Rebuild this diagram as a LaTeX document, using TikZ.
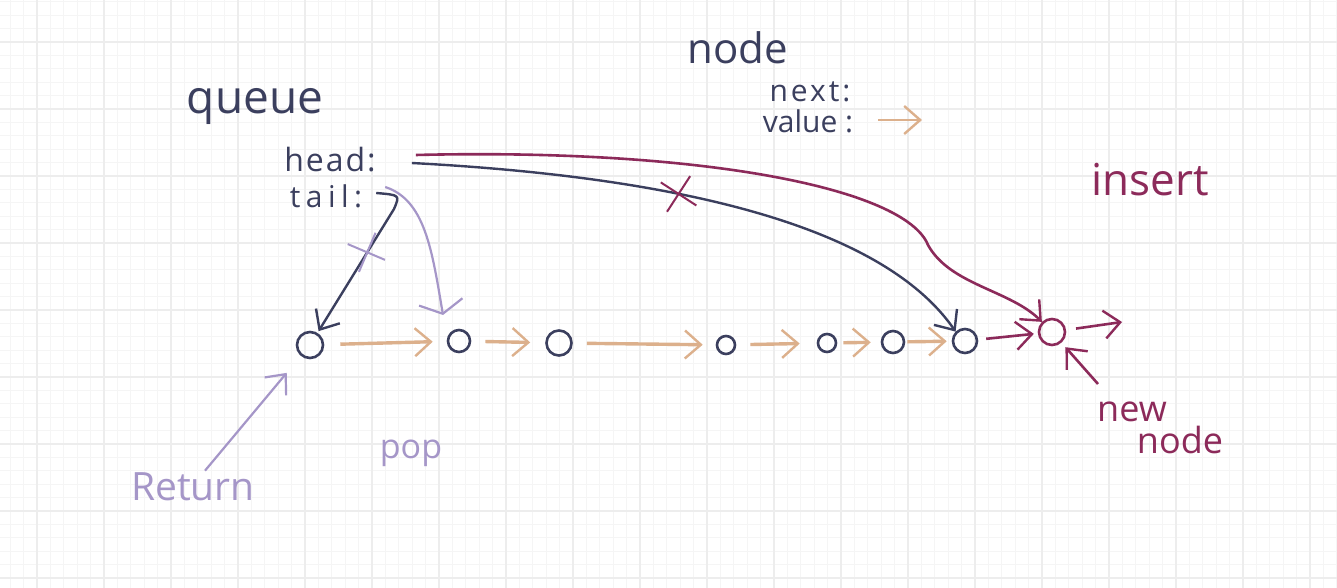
\documentclass[tikz,border=0pt]{standalone}
\usepackage{fontspec}
\setmainfont{Open Sans}
\usetikzlibrary{arrows.meta,shapes.misc}
\definecolor{navy}{HTML}{3B3F5E}
\definecolor{peach}{HTML}{DCB08C}
\definecolor{plum}{HTML}{8C2A5A}
\definecolor{lav}{HTML}{A596C8}
\definecolor{gminor}{HTML}{F5F5F5}
\definecolor{gmajor}{HTML}{EDEDED}
\tikzset{
  txt/.style={inner sep=0pt, anchor=center},
  circ/.style={circle, draw=navy, line width=2.6pt, inner sep=0pt},
  tip/.style={-{Straight Barb[length=16pt,width=28pt,line width=2.4pt]}},
  oarr/.style={tip, draw=peach, line width=3.4pt},
  narr/.style={tip, draw=navy, line width=2.4pt},
  parr/.style={tip, draw=plum, line width=2.6pt},
  larr/.style={-{Straight Barb[length=12pt,width=44pt,line width=2.2pt]}, draw=lav, line width=2.2pt},
  xmark/.style={cross out, draw, line width=2pt, minimum size=28pt, inner sep=0pt},
}
\begin{document}
\begin{tikzpicture}[x=1pt,y=-1pt]
\useasboundingbox (0,0) rectangle (1337,588);
\fill[white] (0,0) rectangle (1337,588);
% grid
\foreach \i in {0,...,100} {\draw[gminor, line width=1pt] (10.2+13.4*\i,0) -- (10.2+13.4*\i,588);}
\foreach \i in {0,...,44} {\draw[gminor, line width=1pt] (0,1.8+13.4*\i) -- (1337,1.8+13.4*\i);}
\foreach \i in {0,...,20} {\draw[gmajor, line width=1.2pt] (37+67*\i,0) -- (37+67*\i,588);}
\foreach \i in {0,...,9} {\draw[gmajor, line width=1.2pt] (0,42+67*\i) -- (1337,42+67*\i);}

% texts
\node[txt, navy, font=\fontsize{46}{46}\selectfont] (queue) at (255,106) {queue};
\node[txt, navy, font=\fontsize{32}{32}\selectfont\addfontfeatures{LetterSpace=6}] (head) at (330,160) {head:};
\node[txt, navy, font=\fontsize{30}{30}\selectfont\addfontfeatures{LetterSpace=18}] (tail) at (326,196) {tail:};
\node[txt, navy, font=\fontsize{42}{42}\selectfont] (nodet) at (738,48) {node};
\node[txt, navy, font=\fontsize{30}{30}\selectfont\addfontfeatures{LetterSpace=10}] (next) at (810,92) {next:};
\node[txt, navy, font=\fontsize{30}{30}\selectfont] (value) at (808,121) {value :};
\coordinate (va1) at (878,120);
\coordinate (va2) at (922,120);
\draw[oarr, line width=2.8pt] (va1) -- (va2);
\node[txt, plum, font=\fontsize{44}{44}\selectfont] (insert) at (1150,180) {insert};
\node[txt, plum, font=\fontsize{36}{36}\selectfont] (new) at (1132,412) {new};
\node[txt, plum, font=\fontsize{36}{36}\selectfont] (nnode) at (1180,440) {node};
\node[txt, lav, font=\fontsize{39}{39}\selectfont] (ret) at (193,487) {Return};
\node[txt, lav, font=\fontsize{34}{34}\selectfont] (pop) at (411,453) {pop};

% list nodes
\node[circ, minimum size=26pt] (c1) at (310,345) {};
\node[circ, minimum size=22pt] (c2) at (459,341) {};
\node[circ, minimum size=25pt] (c3) at (559,343) {};
\node[circ, minimum size=18pt] (c4) at (726,345) {};
\node[circ, minimum size=18pt] (c5) at (827,343) {};
\node[circ, minimum size=22pt] (c6) at (893,342) {};
\node[circ, minimum size=24pt] (c7) at (965,341) {};
\node[circ, draw=plum, minimum size=26pt] (c8) at (1052,332) {};

% orange next arrows
\draw[oarr, shorten <=16pt, shorten >=14pt] (c1) -- (c2);
\draw[oarr, shorten <=14pt, shorten >=15pt] (c2) -- (c3);
\draw[oarr, shorten <=14pt, shorten >=13pt] (c3) -- (c4);
\draw[oarr, shorten <=14pt, shorten >=17pt] (c4) -- (c5);
\draw[oarr, shorten <=6pt, shorten >=10pt] (c5) -- (c6);
\draw[oarr, shorten <=2pt, shorten >=5pt] (c6) -- (c7);
% insert arrows
\draw[parr, shorten <=8pt, shorten >=4pt] (c7) -- (c8);
\coordinate (nout) at (1122,322);
\draw[parr, shorten <=10pt] (c8) -- (nout);
\coordinate (nin) at (1098,384);
\draw[parr, shorten >=6pt] (nin) -- (c8);

% head / tail pointers
\draw[narr] ([xshift=36pt,yshift=-3pt]head.east) .. controls (640,175) and (875,215) .. (c7.north west)
  node[pos=0.4, xmark, draw=plum, rotate=12] (x1) {};
\draw[parr] ([xshift=40pt,yshift=5pt]head.east) .. controls (700,148) and (905,188) .. (928,245)
  .. controls (950,285) and (1010,290) .. (c8.north west);
\coordinate (tailhook) at (394,209);
\draw[narr, shorten >=2pt] ([xshift=14pt,yshift=3pt]tail.east) .. controls (400,195) .. (tailhook) -- (c1)
  node[pos=0.35, xmark, draw=lav, rotate=22] (x2) {};
\coordinate (poptip) at (443,315);
\draw[larr] ([xshift=23pt,yshift=9pt]tail.east) .. controls (425,200) and (432,250) .. (poptip);
\draw[larr, -{Straight Barb[length=16pt,width=28pt,line width=2.2pt]}, shorten >=22pt] ([xshift=12pt,yshift=2pt]ret.north) -- (c1);
\end{tikzpicture}
\end{document}
